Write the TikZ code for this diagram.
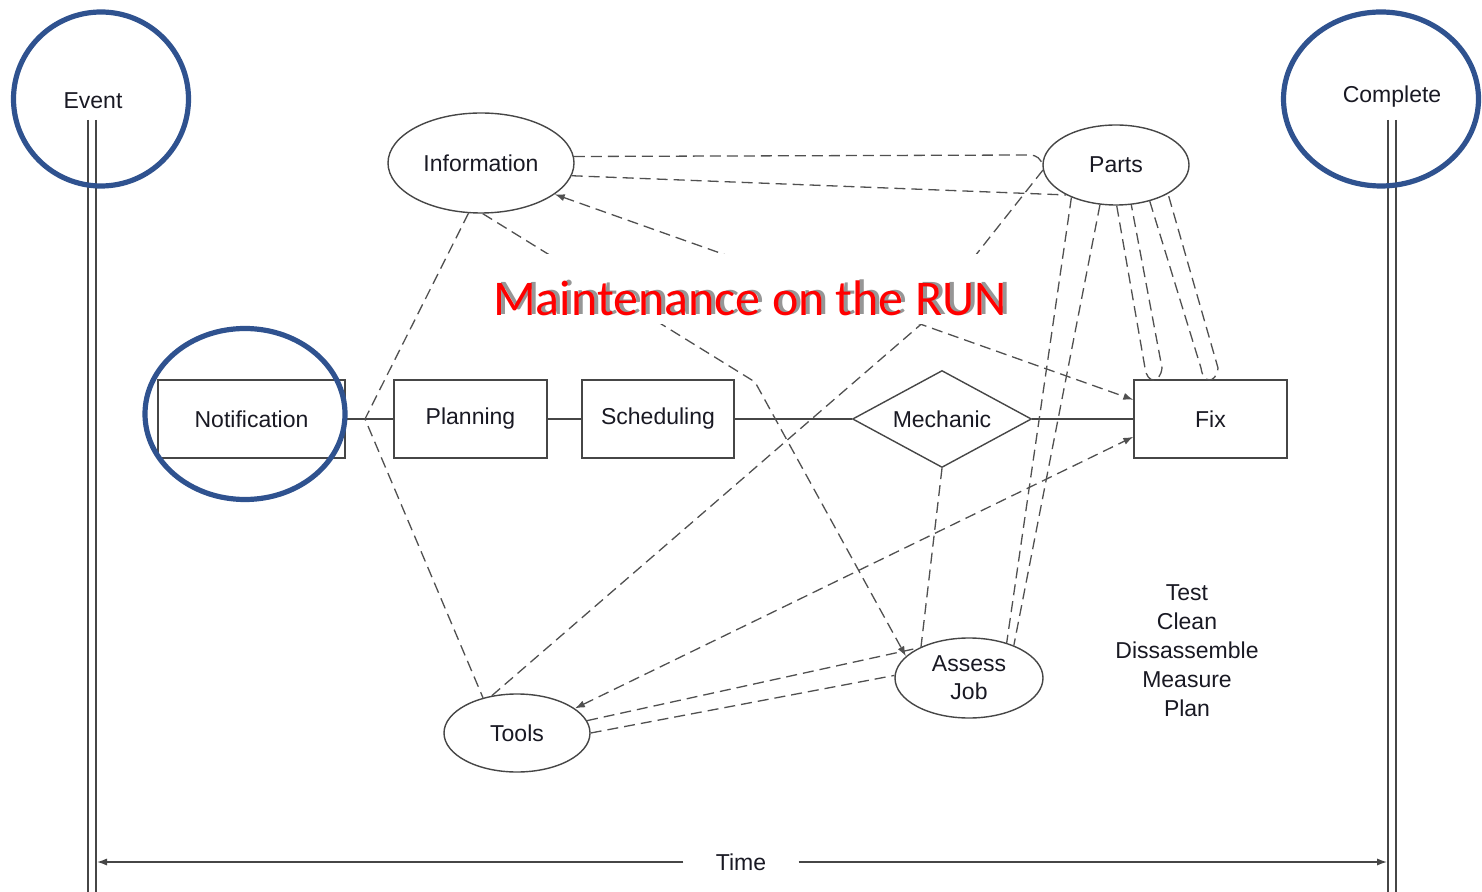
\documentclass[tikz,border=0pt]{standalone}
\usepackage{fontspec}
\setmainfont{Liberation Sans}
\newfontfamily\titlefont{Carlito}
\usetikzlibrary{shapes.geometric,arrows.meta,calc}
\definecolor{ringblue}{RGB}{47,82,143}
\definecolor{lineg}{RGB}{70,70,70}
\definecolor{dashg}{RGB}{80,80,80}
\definecolor{txt}{RGB}{25,25,35}
\definecolor{shadowg}{RGB}{150,150,150}
\newcommand{\shadowedtitle}[1]{\makebox[0pt][l]{\hspace{2pt}\raisebox{0.6pt}{\color{shadowg}#1}}#1}
\begin{document}
\begin{tikzpicture}[x=0.5pt,y=-0.5pt,
  every node/.style={font=\fontsize{11.5}{14}\selectfont, text=txt},
  box/.style={draw=lineg, line width=0.7pt, rectangle, minimum width=#1, minimum height=39pt, inner sep=0pt},
  oval/.style={draw=lineg, line width=0.7pt, ellipse, inner sep=0pt, minimum width=73pt, minimum height=40pt, align=center},
  dsh/.style={draw=dashg, line width=0.65pt, dash pattern=on 5.5pt off 3pt},
  conn/.style={draw=lineg, line width=0.7pt},
  rail/.style={draw=lineg, line width=0.75pt},
  ring/.style={draw=ringblue, line width=2.6pt, ellipse, inner sep=0pt, outer sep=0pt},
  tipend/.style={-{Latex[length=5pt,width=3.6pt]}},
  tipboth/.style={{Latex[length=5pt,width=3.6pt]}-{Latex[length=5pt,width=3.6pt]}},
  titletext/.style={font=\titlefont\fontsize{25}{30}\selectfont, inner sep=0pt}
]
\useasboundingbox (0,0) rectangle (1482,892);

% process nodes
\node[box=93.5pt] (notif) at (251.5,419) {Notification};
\node[box=76.5pt] (plan) at (470.5,419) {Planning};
\node[box=76pt] (sched) at (658,419) {Scheduling};
\node[diamond, draw=lineg, line width=0.7pt, aspect=1.85, inner sep=0pt, minimum width=89.5pt, minimum height=48.5pt] (mech) at (942,419) {Mechanic};
\node[box=76.5pt] (fix) at (1210.5,419) {Fix};
\node[oval, minimum width=93pt, minimum height=50pt] (info) at (481,163) {Information};
\node[oval] (parts) at (1116,165) {Parts};
\node[oval, minimum height=39pt] (tools) at (517,733) {Tools};
\node[oval, minimum width=74pt] (assess) at (969,678) {Assess\\Job};
\node[align=center, font=\fontsize{11.5}{14.5}\selectfont] (steps) at (1187,651) {Test\\Clean\\Dissassemble\\Measure\\Plan};

\node (event) at (93,101) {Event};
\node (complete) at (1392,97) {Complete};

% rails
\coordinate (la1) at (88,120); \coordinate (lb1) at (88,892);
\coordinate (la2) at (96,120); \coordinate (lb2) at (96,892);
\coordinate (ra1) at (1388,120); \coordinate (rb1) at (1388,892);
\coordinate (ra2) at (1396,120); \coordinate (rb2) at (1396,892);
\draw[rail] (la1) -- (lb1);
\draw[rail] (la2) -- (lb2);
\draw[rail] (ra1) -- (rb1);
\draw[rail] (ra2) -- (rb2);

% time axis
\node[inner xsep=16pt] (time) at (741,862) {Time};
\coordinate (tl) at (97,862);
\coordinate (tr) at (1387,862);
\draw[conn, tipend] (time.west) -- (tl);
\draw[conn, tipend] (time.east) -- (tr);

% solid flow
\draw[conn] (notif) -- (plan);
\draw[conn] (plan) -- (sched);
\draw[conn] (sched) -- (mech);
\draw[conn] (mech) -- (fix);

% dashed relations
\coordinate (J2) at (365,419);
\coordinate (B) at (755,382);
\coordinate (J1) at ($(info.-23)!0.633!(fix.166)$);
\coordinate (k1) at (1030,155);
\coordinate (u1a) at (1145,368); \coordinate (u1b) at (1162,368);
\coordinate (u2a) at (1201,368); \coordinate (u2b) at (1218,368);

\draw[dsh] (info.4) -- (k1) to[out=0,in=100] (parts.180);
\draw[dsh] (info.-8) -- (parts.-149);
\draw[dsh] (info.-104) -- (J2) -- (tools.134);
\draw[dsh, tipend] (info.-88) -- (B) -- (assess.161);
\draw[dsh, tipboth] (info.-23) -- (fix.166);
\draw[dsh] (tools.124) -- (J1);
\draw[dsh] (parts.184) -- (J1);
\draw[dsh, tipboth] (tools.23) -- (fix.193);
\draw[dsh] (tools.10) -- (assess.149);
\draw[dsh] (tools.east) -- (assess.178);
\draw[dsh] (mech.south) -- (assess.147);
\draw[dsh] (parts.-144) -- (assess.43);
\draw[dsh] (parts.-112) -- (assess.36);
\draw[dsh] (parts.-89) -- (u1a) .. controls (1147,384) and (1160,384) .. (u1b) -- (parts.-69);
\draw[dsh] (parts.-47) -- (u2a) .. controls (1203,384) and (1216,384) .. (u2b) -- (parts.-29);

% title
\node[fill=white, minimum width=268pt, minimum height=35pt, inner sep=0pt] (titlebg) at (746,289) {};
\node[titletext, text=red] (title) at (750,298) {\shadowedtitle{Maintenance on the RUN}};

% highlight rings
\node[ring, minimum width=87.5pt, minimum height=87pt] (eventring) at (101,99) {};
\node[ring, minimum width=97.5pt, minimum height=87pt] (completering) at (1381,99) {};
\node[ring, minimum width=100pt, minimum height=85.5pt] (notifring) at (245,414) {};
\end{tikzpicture}
\end{document}
